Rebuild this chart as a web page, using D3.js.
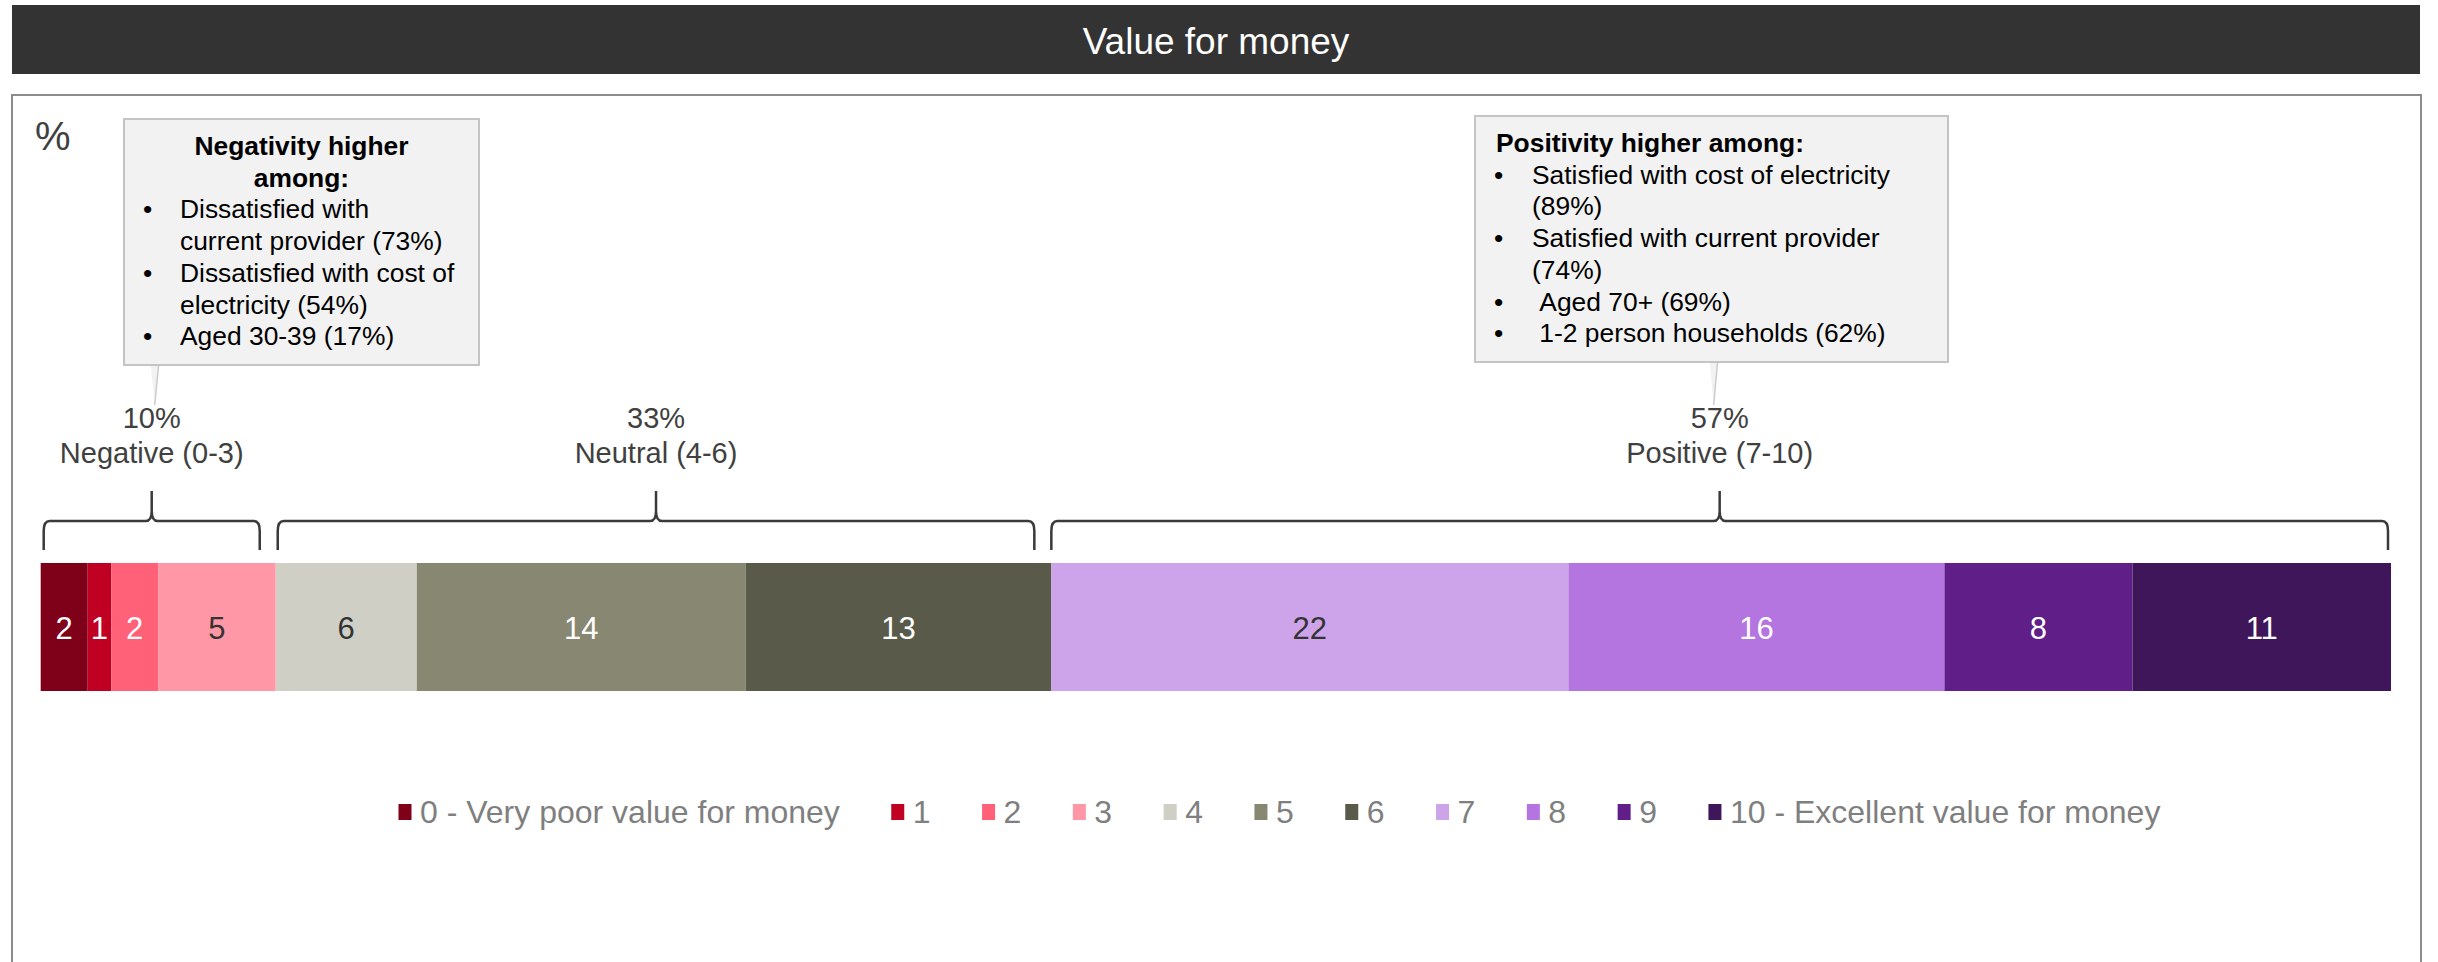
<!DOCTYPE html>
<html>
<head>
<meta charset="utf-8">
<script src="https://cdn.jsdelivr.net/npm/d3@7"></script>
<style>
  body { margin: 0; background: #fff; }
  text { font-family: "Liberation Sans", Arial, sans-serif; }
</style>
</head>
<body>
<svg id="chart"></svg>
<script>
// data
var categories = ["0 - Very poor value for money", "1", "2", "3", "4", "5", "6", "7", "8", "9", "10 - Excellent value for money"];
var values = [2, 1, 2, 5, 6, 14, 13, 22, 16, 8, 11];
var colors = ["#7f0019", "#bf0022", "#ff6179", "#ff97a6", "#cfcfc6", "#888872", "#5a5a4a", "#cda3ea", "#b575e0", "#601e88", "#40165a"];
var labelColors = ["#fff", "#fff", "#fff", "#333", "#333", "#fff", "#fff", "#333", "#fff", "#fff", "#fff"];

var groupNames = ["Negative (0-3)", "Neutral (4-6)", "Positive (7-10)"];
var groupPcts = ["10%", "33%", "57%"];
var groupFirst = [0, 4, 7];
var groupLast = [3, 6, 10];

var negTitle = ["Negativity higher", "among:"];
var negItems = [["Dissatisfied with", "current provider (73%)"],
                ["Dissatisfied with cost of", "electricity (54%)"],
                ["Aged 30-39 (17%)"]];
var posTitle = ["Positivity higher among:"];
var posItems = [["Satisfied with cost of electricity", "(89%)"],
                ["Satisfied with current provider", "(74%)"],
                ["\u00a0Aged 70+ (69%)"],
                ["\u00a01-2 person households (62%)"]];

var width = 2438, height = 962;
var svg = d3.select("#chart").attr("width", width).attr("height", height);

// title bar + panel
svg.append("rect").attr("x", 12).attr("y", 5).attr("width", 2408).attr("height", 69).attr("fill", "#333333");
svg.append("text").attr("x", 1216).attr("y", 54).attr("text-anchor", "middle")
  .attr("fill", "#fff").style("font-size", "37px").text("Value for money");
svg.append("rect").attr("x", 12).attr("y", 95).attr("width", 2409).attr("height", 920)
  .attr("fill", "none").attr("stroke", "#8c8c8c").attr("stroke-width", 2);
svg.append("text").attr("x", 35).attr("y", 150).attr("fill", "#404040").style("font-size", "40px").text("%");

// scales
var starts = [];
var acc = 0;
values.forEach(function(v) { starts.push(acc); acc += v; });

var xScale = d3.scaleLinear().domain([0, 100]).range([40.7, 2391]);
var barTop = 563, barH = 128;

var bars = svg.append("g").attr("class", "bars");
bars.selectAll("rect").data(values).enter().append("rect")
  .attr("x", function(d, i) { return xScale(starts[i]); })
  .attr("y", barTop)
  .attr("width", function(d, i) { return xScale(starts[i] + d) - xScale(starts[i]); })
  .attr("height", barH)
  .attr("fill", function(d, i) { return colors[i]; });

bars.selectAll("text").data(values).enter().append("text")
  .attr("x", function(d, i) { return xScale(starts[i] + d / 2); })
  .attr("y", barTop + 76)
  .attr("text-anchor", "middle")
  .attr("fill", function(d, i) { return labelColors[i]; })
  .style("font-size", "31px")
  .text(function(d) { return d; });

// braces over the groups
var braceInsets = [[3, -16], [2, -17], [0, -3]];
var yEnd = 550, yLine = 521, yPeak = 491;
var braceMid = [];

groupNames.forEach(function(name, g) {
  var x0 = xScale(starts[groupFirst[g]]) + braceInsets[g][0];
  var x1 = xScale(starts[groupLast[g]] + values[groupLast[g]]) + braceInsets[g][1];
  var xm = (x0 + x1) / 2;
  braceMid.push(xm);
  var p = d3.path();
  p.moveTo(x0, yEnd);
  p.lineTo(x0, yLine + 10);
  p.quadraticCurveTo(x0, yLine, x0 + 6, yLine);
  p.lineTo(xm - 6, yLine);
  p.quadraticCurveTo(xm, yLine, xm, yLine - 10);
  p.lineTo(xm, yPeak);
  p.moveTo(xm, yLine - 10);
  p.quadraticCurveTo(xm, yLine, xm + 6, yLine);
  p.lineTo(x1 - 6, yLine);
  p.quadraticCurveTo(x1, yLine, x1, yLine + 10);
  p.lineTo(x1, yEnd);
  svg.append("path").attr("d", p.toString()).attr("fill", "none")
    .attr("stroke", "#3a3a3a").attr("stroke-width", 2.5);

  svg.append("text").attr("x", xm).attr("y", 428).attr("text-anchor", "middle")
    .attr("fill", "#404040").style("font-size", "29px").text(groupPcts[g]);
  svg.append("text").attr("x", xm).attr("y", 463).attr("text-anchor", "middle")
    .attr("fill", "#404040").style("font-size", "29px").text(name);
});

// callout boxes
var drawCallout = function(box, tipX, titleLines, items, centred) {
  var lh = 31.7;
  var g = svg.append("g");
  g.append("path")
    .attr("d", "M" + (tipX - 4) + "," + (box.y + box.h - 1) + "L" + (tipX + 4) + "," + (box.y + box.h - 1) + "L" + tipX + ",405")
    .attr("fill", "#f2f2f2").attr("stroke", "#cccccc").attr("stroke-width", 1.5);
  g.append("rect").attr("x", box.x).attr("y", box.y).attr("width", box.w).attr("height", box.h)
    .attr("fill", "#f2f2f2").attr("stroke", "#c4c4c4").attr("stroke-width", 2);
  var y = box.base;
  titleLines.forEach(function(t) {
    g.append("text")
      .attr("x", centred ? box.x + box.w / 2 : box.bulletX + 2)
      .attr("y", y)
      .attr("text-anchor", centred ? "middle" : "start")
      .style("font-size", "26.4px").style("font-weight", "bold").attr("fill", "#000")
      .text(t);
    y += lh;
  });
  items.forEach(function(item) {
    g.append("text").attr("x", box.bulletX).attr("y", y).style("font-size", "26.4px").attr("fill", "#000").text("\u2022");
    item.forEach(function(t) {
      g.append("text").attr("x", box.textX).attr("y", y).style("font-size", "26.4px").attr("fill", "#000").text(t);
      y += lh;
    });
  });
};

drawCallout({x: 124, y: 119, w: 355, h: 246, base: 155, bulletX: 143, textX: 180}, braceMid[0] + 3, negTitle, negItems, true);
drawCallout({x: 1475, y: 116, w: 473, h: 246, base: 152, bulletX: 1494, textX: 1532}, braceMid[2] - 6, posTitle, posItems, false);

// legend
var legend = svg.append("g").attr("class", "legend");
var lx = 398.5;
categories.forEach(function(c, i) {
  legend.append("rect").attr("x", lx).attr("y", 804).attr("width", 13).attr("height", 16).attr("fill", colors[i]);
  var t = legend.append("text").attr("x", lx + 21.5).attr("y", 823)
    .attr("fill", "#7f7f7f").style("font-size", "32px").text(c);
  lx = lx + 21.5 + t.node().getComputedTextLength() + 51.5;
});
</script>
</body>
</html>
